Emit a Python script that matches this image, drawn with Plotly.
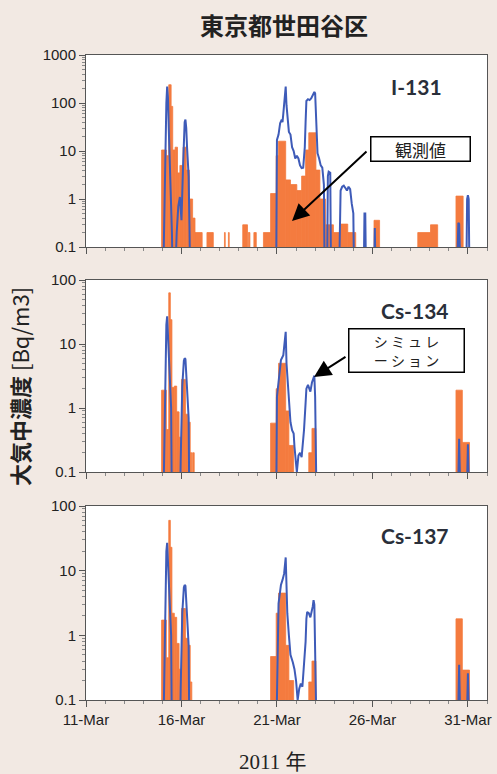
import pandas as pd
import plotly.graph_objects as go
from plotly.subplots import make_subplots

# ---------------- data (hours elapsed since 2011-03-11 00:00) ----------------
T0 = pd.Timestamp("2011-03-11 00:00")

# observed (bars): start hour, duration (h), concentration
i131_obs_start = [95, 101, 104, 107, 109, 112, 115, 118, 122, 126, 130, 134, 137, 152, 174, 179,
                  197, 204, 211, 223, 232, 239, 242, 251, 257, 265, 271, 276, 280, 289, 294, 301,
                  311, 320, 329, 362, 417, 433, 465]
i131_obs_dur = [6, 3, 3, 2, 3, 3, 3, 4, 4, 4, 4, 3, 9, 8, 1, 1,
                6, 2, 3, 9, 7, 3, 9, 6, 8, 6, 5, 4, 9, 5, 7, 10,
                9, 9, 10, 7, 16, 9, 9]
i131_obs = [10.5, 8, 240, 85, 10.5, 12, 3.5, 5, 12, 4, 1.0, 0.4, 0.2, 0.2, 0.2, 0.2,
            0.29, 0.2, 0.2, 0.2, 1.3, 8, 16, 2.5, 2, 1.5, 3, 10.5, 24, 4, 1.0, 0.29,
            0.2, 0.3, 0.2, 0.36, 0.2, 0.29, 1.15]

cs134_obs_start = [95, 101, 104, 106, 108, 111, 114, 117, 120, 125, 128, 131, 134,
                   232, 239, 242, 251, 255, 280, 284, 465, 473]
cs134_obs_dur = [6, 3, 2, 2, 3, 3, 3, 3, 5, 3, 3, 2, 2,
                 7, 3, 9, 4, 6, 4, 5, 8, 9]
cs134_obs = [1.9, 0.46, 63, 24, 2.1, 2.2, 0.87, 0.35, 2.8, 0.8, 0.6, 0.2, 0.2,
             0.58, 2.0, 5, 0.9, 0.26, 0.2, 0.48, 1.9, 0.29]

cs137_obs_start = [95, 101, 104, 106, 108, 111, 114, 117, 120, 125, 128, 131,
                   232, 239, 242, 251, 255, 280, 284, 465, 473]
cs137_obs_dur = [6, 3, 2, 2, 3, 3, 3, 3, 5, 3, 3, 2,
                 7, 3, 9, 4, 6, 4, 5, 8, 9]
cs137_obs = [1.72, 0.45, 60, 23, 2.2, 1.9, 0.75, 0.3, 2.6, 0.9, 0.7, 0.19,
             0.47, 2.2, 4.5, 0.7, 0.2, 0.19, 0.4, 1.8, 0.29]

# simulation (line): hour, concentration
i131_sim_h = [97, 99, 101, 102, 103, 104, 106, 108, 109,
              112, 114, 116, 118, 120, 122, 123, 124, 125, 126, 127, 128, 129, 130, 131,
              239, 240, 242, 244, 246, 247, 248, 249, 250, 251, 252, 253, 255, 257, 259, 261,
              263, 265, 267, 269, 271, 273, 275, 276, 277, 279, 281, 283, 285, 287, 288, 289,
              290, 291, 293, 295, 297, 298, 299, 300,
              303, 304, 305, 307, 308,
              318, 320, 322, 324, 326, 328, 330, 332, 334, 336, 337,
              349, 350, 351, 352, 362, 363, 364,
              466, 468, 469, 471, 478, 479, 480, 481, 482]
i131_sim = [0.02, 2, 100, 220, 130, 30, 3, 0.2, 0.02,
            0.02, 0.2, 0.7, 1.1, 0.36, 5, 20, 40, 45, 30, 12, 5, 3, 0.3, 0.02,
            0.02, 17, 22, 38, 45, 40, 60, 85, 150, 220, 90, 50, 25, 22, 12, 10,
            7, 8, 7, 5, 4.4, 4.5, 12, 40, 110, 120, 115, 125, 150, 170, 160, 60,
            15, 9, 7, 5, 4.5, 3, 2, 0.02,
            0.02, 3, 3.7, 3.5, 0.02,
            0.02, 1.5, 1.8, 1.9, 1.7, 1.5, 1.8, 1.6, 0.8, 0.5, 0.02,
            0.02, 0.5, 0.5, 0.02, 0.02, 0.25, 0.02,
            0.02, 0.32, 0.3, 0.02, 0.02, 1.0, 1.2, 1.0, 0.02]

cs134_sim_h = [97, 99, 101, 102, 103, 104, 106, 107, 108,
               118, 119, 120, 121, 123, 124, 125, 126, 127, 128, 129, 130,
               239, 240, 242, 245, 248, 249, 250, 251, 252, 254, 255, 257, 259, 261, 262, 264,
               265, 267, 269, 271, 273, 274, 276, 277, 279, 281, 282, 284, 286, 287, 288, 289, 290,
               467, 469, 471, 478, 480, 482]
cs134_sim = [0.02, 1, 20, 27, 15, 8, 3, 1, 0.02,
             0.02, 0.15, 0.5, 2.2, 5.5, 6, 5.8, 3, 1.5, 0.9, 0.7, 0.02,
             0.02, 1.5, 2.7, 5.6, 6.7, 9, 12, 15.5, 5, 1.8, 1.2, 0.6, 0.45, 0.4, 0.25, 0.13,
             0.1, 0.18, 0.2, 0.17, 0.3, 0.45, 1.2, 2.0, 2.3, 2.0, 1.8, 2.5, 3.1, 3.2, 1.5, 0.3, 0.02,
             0.02, 0.33, 0.02, 0.02, 0.27, 0.02]

cs137_sim_h = [97, 99, 101, 102, 103, 104, 106, 107, 108,
               118, 119, 120, 121, 123, 124, 125, 126, 127, 128, 129, 130,
               239, 242, 245, 247, 249, 251, 252, 253, 255, 257, 260, 262, 264, 266,
               268, 270, 272, 274, 276, 277, 278, 280, 282, 285, 286, 287, 288, 289, 290,
               467, 469, 471, 478, 480, 482]
cs137_sim = [0.02, 1, 20, 27, 15, 8, 3, 1, 0.02,
             0.02, 0.15, 0.5, 2.2, 5.5, 6, 5.8, 3, 1.5, 0.9, 0.7, 0.02,
             0.02, 3.1, 6, 7.2, 9, 16, 4, 2.2, 1, 0.5, 0.38, 0.3, 0.2, 0.1,
             0.15, 0.18, 0.16, 0.35, 0.8, 1.8, 2.3, 2.2, 1.9, 2.8, 3.5, 3.0, 1.2, 0.3, 0.02,
             0.02, 0.35, 0.02, 0.02, 0.26, 0.02]

panel_labels = ["I-131", "Cs-134", "Cs-137"]
ytick_vals = [0.1, 1, 10, 100, 1000]
ytick_text = ["0.1", "1", "10", "100", "1000"]
y_ranges = [[-1, 3], [-1, 2], [-1, 2]]

# ---------------- styling ----------------
BG = "#F2E9E3"
ORANGE = "#F47B3F"
BLUE = "#3E5BB8"
FRAME = "#555555"
TXT = "#222222"
W, H = 497, 774


def to_time(hours):
    return [T0 + pd.Timedelta(hours=h) for h in hours]


fig = make_subplots(rows=3, cols=1)

series = [
    (i131_obs_start, i131_obs_dur, i131_obs, i131_sim_h, i131_sim),
    (cs134_obs_start, cs134_obs_dur, cs134_obs, cs134_sim_h, cs134_sim),
    (cs137_obs_start, cs137_obs_dur, cs137_obs, cs137_sim_h, cs137_sim),
]

for i, (st, du, ob, sh, sv) in enumerate(series):
    r = i + 1
    fig.add_trace(go.Bar(x=to_time(st), y=ob, width=[d * 3600000 for d in du], offset=0,
                         marker=dict(color=ORANGE, line=dict(width=0.8, color=ORANGE)),
                         showlegend=False),
                  row=r, col=1)
    fig.add_trace(go.Scatter(x=to_time(sh), y=sv, mode="lines",
                             line=dict(color=BLUE, width=2), showlegend=False),
                  row=r, col=1)

px_x = lambda p: p / W
px_y = lambda p: (H - p) / H

y_domains = [(247, 55), (472, 280), (700, 506)]
minor_vals = [m * 10 ** e for e in range(-1, 3) for m in range(2, 10)]

for i in range(3):
    r = i + 1
    fig.update_xaxes(type="date", range=[T0, T0 + pd.Timedelta(days=21)],
                     tick0=T0, dtick=5 * 86400000, tickformat="%-d-%b",
                     ticks="outside", ticklen=6, tickcolor=FRAME, tickwidth=1,
                     minor=dict(dtick=86400000, ticks="outside", ticklen=3, tickcolor="#888"),
                     showline=True, mirror=True, linecolor=FRAME, linewidth=1,
                     showgrid=False, zeroline=False, automargin=False,
                     showticklabels=(r == 3),
                     tickfont=dict(family="Liberation Sans, Arial", size=15, color=TXT),
                     domain=[px_x(86), px_x(487)], row=r, col=1)
    fig.update_yaxes(type="log", range=y_ranges[i],
                     tickmode="array", tickvals=ytick_vals, ticktext=ytick_text,
                     ticks="outside", ticklen=6, tickcolor=FRAME,
                     minor=dict(tickmode="array", tickvals=minor_vals, ticks="outside",
                                ticklen=3, tickcolor="#888"),
                     showline=True, mirror=True, linecolor=FRAME, linewidth=1,
                     showgrid=False, zeroline=False, automargin=False,
                     tickfont=dict(family="Liberation Sans, Arial", size=15, color=TXT),
                     domain=[px_y(y_domains[i][0]), px_y(y_domains[i][1])], row=r, col=1)

annotations = [
    dict(text="<b>東京都世田谷区</b>", x=px_x(284), y=px_y(25),
         font=dict(family="Noto Sans CJK JP", size=24, color=TXT), showarrow=False),
    dict(text="<b>大気中濃度</b> [Bq/m3]", x=px_x(19), y=px_y(387), textangle=-90,
         font=dict(family="Noto Sans CJK JP", size=22, color=TXT), showarrow=False),
    dict(text="2011 年", x=px_x(272), y=px_y(762),
         font=dict(family="Liberation Serif, Noto Sans CJK JP", size=21, color=TXT), showarrow=False),
]
for lbl, (cx, cy) in zip(panel_labels, [(416, 87), (415, 310), (415, 535)]):
    annotations.append(dict(text="<b>" + lbl + "</b>", x=px_x(cx), y=px_y(cy),
                            font=dict(family="Lato, Liberation Sans", size=21, color="#2a2f3a"),
                            showarrow=False))

# callout boxes
annotations.append(dict(text="観測値", x=px_x(420), y=px_y(149), width=96, height=21,
                        font=dict(family="Noto Sans CJK JP", size=17, color=TXT),
                        bgcolor="white", bordercolor="black", borderwidth=1.5, borderpad=1,
                        showarrow=False))
annotations.append(dict(text="", x=px_x(292), y=px_y(221), ax=76, ay=-71,
                        showarrow=True, arrowhead=2, arrowsize=1.7, arrowwidth=2,
                        arrowcolor="black"))
annotations.append(dict(text="シ ミ ュ レ<br>ー シ ョ ン", x=px_x(406.5), y=px_y(350),
                        width=112, height=40,
                        font=dict(family="Noto Sans CJK JP", size=14, color=TXT),
                        bgcolor="white", bordercolor="black", borderwidth=1.5, borderpad=1,
                        showarrow=False))
annotations.append(dict(text="", x=px_x(314), y=px_y(377), ax=33, ay=-21,
                        showarrow=True, arrowhead=2, arrowsize=1.7, arrowwidth=2,
                        arrowcolor="black"))

for a in annotations:
    a.setdefault("xref", "paper")
    a.setdefault("yref", "paper")
    a.setdefault("xanchor", "center")
    a.setdefault("yanchor", "middle")

fig.update_layout(width=W, height=H, margin=dict(l=0, r=0, t=0, b=0),
                  paper_bgcolor=BG, plot_bgcolor="white", showlegend=False,
                  annotations=annotations, barmode="overlay")

fig.write_html("out.html", config={"displayModeBar": False},
               post_script="document.body.style.margin='0';document.body.style.background='%s';" % BG)
